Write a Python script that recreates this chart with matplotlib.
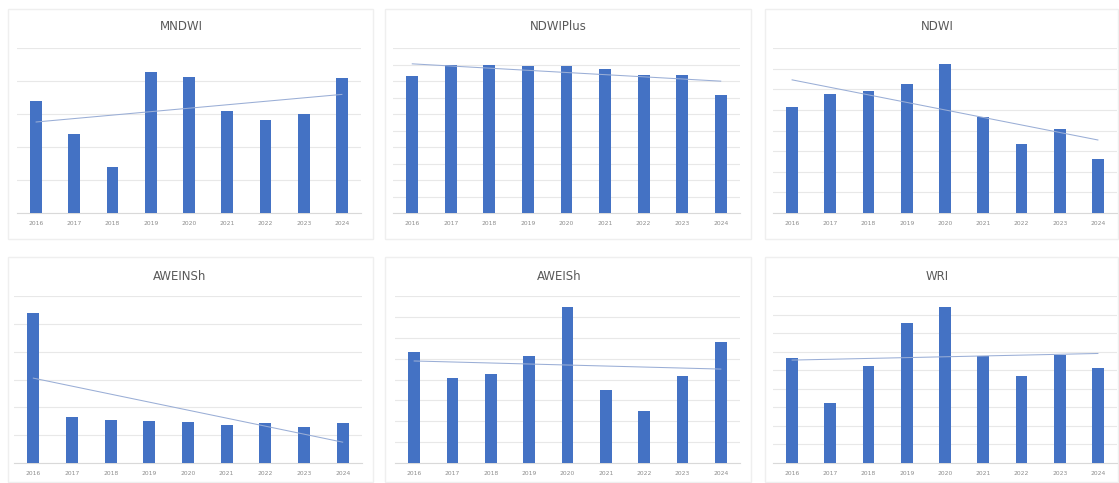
import numpy as np
import matplotlib
matplotlib.use('Agg')
import matplotlib.pyplot as plt
from matplotlib.patches import Rectangle

# Years on the x axis
years = ['2016', '2017', '2018', '2019', '2020', '2021', '2022', '2023', '2024']

# Yearly values for each water index
mndwi = [3.38, 2.40, 1.40, 4.27, 4.13, 3.10, 2.82, 3.00, 4.08]
ndwiplus = [8.28, 8.99, 8.99, 8.89, 8.89, 8.75, 8.34, 8.38, 7.13]
ndwi = [5.12, 5.78, 5.91, 6.27, 7.21, 4.64, 3.36, 4.07, 2.62]
aweinsh = [5.40, 1.64, 1.54, 1.50, 1.48, 1.36, 1.44, 1.31, 1.42]
aweish = [5.31, 4.08, 4.27, 5.12, 7.49, 3.49, 2.51, 4.16, 5.81]
wri = [5.64, 3.26, 5.24, 7.57, 8.41, 5.78, 4.68, 5.84, 5.10]

titles = ['MNDWI', 'NDWIPlus', 'NDWI', 'AWEINSh', 'AWEISh', 'WRI']
series = [mndwi, ndwiplus, ndwi, aweinsh, aweish, wri]
y_max = [5, 10, 8, 6, 8, 9]

W, H = 1119, 483
fig = plt.figure(figsize=(W / 100, H / 100), dpi=100)
fig.patch.set_facecolor('white')

# chart frames (left, top, right, bottom) and plot areas in pixels
frames = [(8, 9, 373, 239), (385, 9, 751, 239), (765, 9, 1118, 239),
          (8, 257, 373, 482), (385, 257, 751, 482), (765, 257, 1118, 482)]
plots = [(17, 48, 361, 213), (393, 48, 740, 213), (773, 48, 1117, 213),
         (14, 296, 362, 463), (395, 296, 740, 463), (773, 296, 1117, 463)]
title_y = [27, 27, 27, 276, 276, 276]

for frame, box, title, vals, top, ty in zip(frames, plots, titles, series, y_max, title_y):
    l, t, r, b = frame
    fig.patches.append(Rectangle((l / W, 1 - b / H), (r - l) / W, (b - t) / H,
                                 transform=fig.transFigure, facecolor='none',
                                 edgecolor='#efefef', linewidth=1.0, zorder=-1))

    l, t, r, b = box
    ax = fig.add_axes([l / W, 1 - b / H, (r - l) / W, (b - t) / H])
    ax.set_facecolor('none')
    x = np.arange(len(years))
    ax.bar(x, vals, width=0.31, color='#4472C4', zorder=3)

    # linear trendline
    k, c = np.polyfit(x, vals, 1)
    ax.plot([x[0], x[-1]], [c, k * x[-1] + c], color='#9aaed6', lw=0.75, zorder=4)

    ax.set_xlim(-0.5, len(years) - 0.5)
    ax.set_ylim(0, top)
    ax.set_yticks(np.arange(0, top + 1))
    ax.yaxis.grid(True, color='#e8e8e8', lw=0.8, zorder=0)
    ax.set_yticklabels([])
    ax.tick_params(axis='y', length=0)
    ax.set_xticks(x)
    ax.set_xticklabels(years, fontsize=4.3, color='#8c8c8c')
    ax.tick_params(axis='x', length=0, pad=6)
    for side in ['top', 'right', 'left']:
        ax.spines[side].set_visible(False)
    ax.spines['bottom'].set_color('#d9d9d9')
    ax.spines['bottom'].set_linewidth(0.8)

    fig.text(((l + r) / 2 - 8) / W, 1 - ty / H, title, ha='center', va='center',
             fontsize=8.5, color='#595959')

fig.savefig('out.png', dpi=100, facecolor='white')
